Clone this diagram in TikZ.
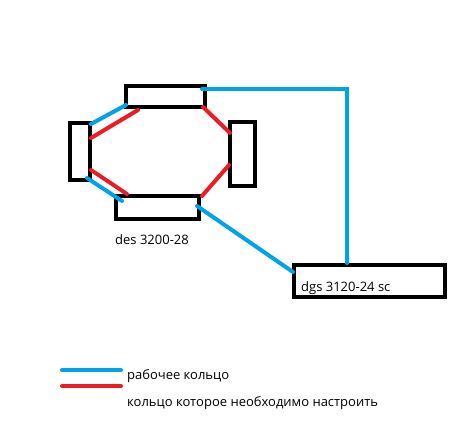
\documentclass[tikz,border=0pt]{standalone}
\usepackage{fontspec}
\setmainfont{Open Sans}
\definecolor{pblue}{RGB}{0,162,232}
\definecolor{pred}{RGB}{237,28,36}
\begin{document}
\begin{tikzpicture}[x=1pt,y=-1pt,
  box/.style={draw=black,line width=4.5pt,inner sep=0pt,fill=none},
  ringok/.style={draw=pblue,line width=4pt,line cap=round},
  ringset/.style={draw=pred,line width=4pt,line cap=round},
  lbl/.style={font=\fontsize{13}{15}\selectfont,anchor=west,inner sep=0pt,text=black}]
\useasboundingbox (0,0) rectangle (464,438);
\fill[white] (0,0) rectangle (464,438);
% boxes
\node[box,minimum width=79pt,minimum height=21pt] (top) at (165.5,96.5) {};
\node[box,minimum width=20pt,minimum height=57pt] (left) at (80,151.5) {};
\node[box,minimum width=25pt,minimum height=64pt] (right) at (242.5,154) {};
\node[box,minimum width=83pt,minimum height=23pt] (bot) at (157.5,207.5) {};
\node[box,minimum width=151pt,minimum height=32pt] (dgs) at (369.5,281) {};
% labels
\node[lbl] (deslbl) at (115,240) {des 3200-28};
\node[lbl] (dgslbl) at (301,288) {dgs 3120-24 sc};
% blue working ring
\draw[ringok] (202,89) -- (347,89) -- (347,263);
\draw[ringok] (197,206) -- (293,272);
\draw[ringok] (91,124) -- (126,105);
\draw[ringok] (87,178) -- (122,201);
% red ring
\draw[ringset] (91,138) -- (138,110);
\draw[ringset] (91,170) -- (127,194);
\draw[ringset] (203,107) -- (230,133);
\draw[ringset] (202,196) -- (229,165);
% legend
\coordinate (lb1) at (62,370);
\coordinate (lb2) at (121,370);
\coordinate (lr1) at (62,386);
\coordinate (lr2) at (121,386);
\draw[ringok] (lb1) -- (lb2);
\draw[ringset] (lr1) -- (lr2);
\node[lbl] (leg1) at (127,376) {рабочее кольцо};
\node[lbl] (leg2) at (127,403) {кольцо которое необходимо настроить};
\end{tikzpicture}
\end{document}
